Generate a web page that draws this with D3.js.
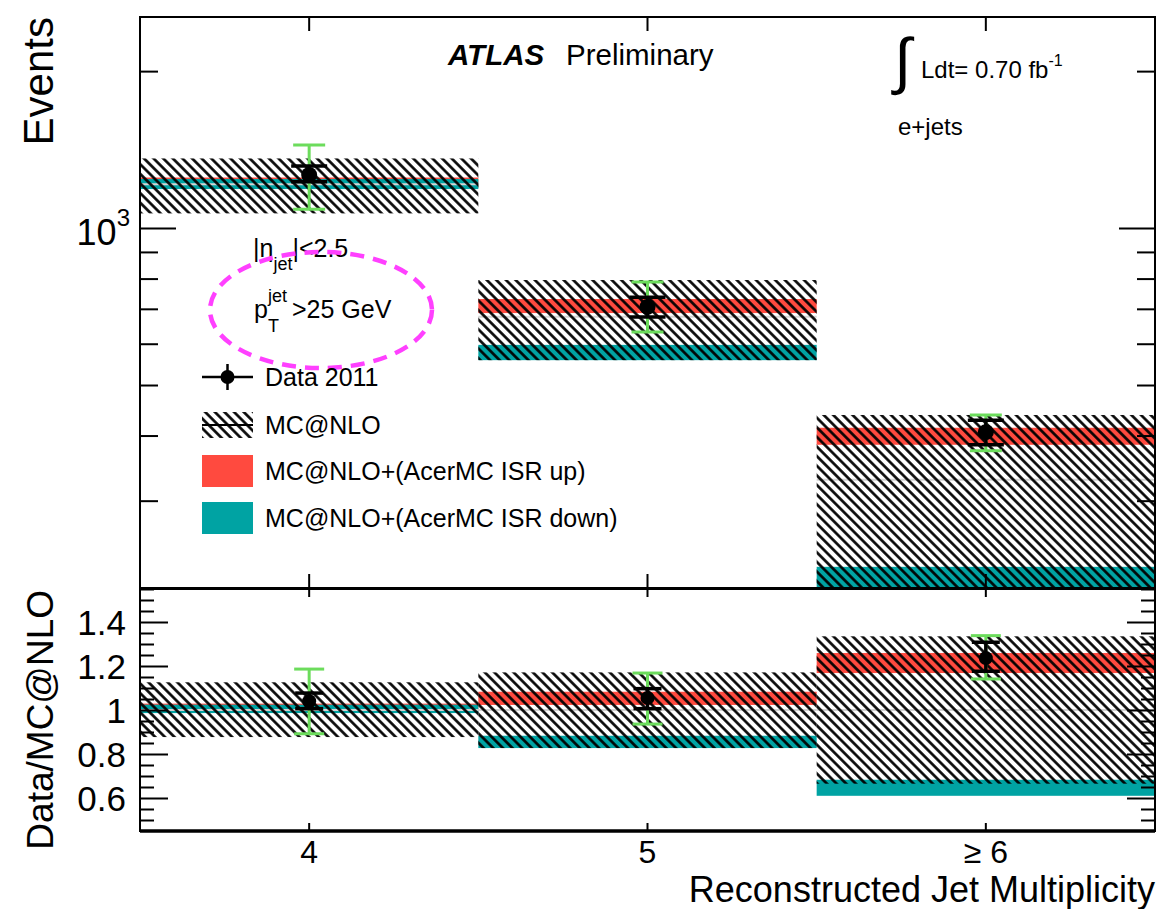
<!DOCTYPE html>
<html>
<head>
<meta charset="utf-8">
<script src="https://cdnjs.cloudflare.com/ajax/libs/d3/7.8.5/d3.min.js"></script>
<style>
  html, body { margin: 0; padding: 0; background: #fff; }
  svg { display: block; }
</style>
</head>
<body>
<svg id="chart" width="1159" height="909"></svg>
<script>
// ---- data: reconstructed jet multiplicity, e+jets channel ----
const categories = ["4", "5", "≥ 6"];

// upper panel (events)
const dataEvents  = [1264, 706, 406];
const dataStatLo  = [1227, 675, 384];
const dataStatHi  = [1315, 737, 428];
const dataTotLo   = [1087, 632, 374];
const dataTotHi   = [1443, 788, 438];
const mcNominal   = [1213, 676, 329];
const mcBandLo    = [1067, 558, 200];
const mcBandHi    = [1360, 795, 438];
const isrUpLo     = [1195, 687, 384];
const isrUpHi     = [1250, 731, 414];
const isrDownLo   = [1188, 558, 190];
const isrDownHi   = [1242, 597, 224];

// lower panel (Data / MC@NLO)
const ratioData    = [1.040, 1.055, 1.236];
const ratioStatLo  = [1.006, 1.006, 1.176];
const ratioStatHi  = [1.077, 1.097, 1.308];
const ratioTotLo   = [0.892, 0.936, 1.141];
const ratioTotHi   = [1.186, 1.168, 1.338];
const ratioNominal = [1.0, 1.0, 1.0];
const ratioMcLo    = [0.877, 0.827, 0.665];
const ratioMcHi    = [1.126, 1.171, 1.335];
const ratioUpLo    = [0.990, 1.023, 1.168];
const ratioUpHi    = [1.029, 1.083, 1.259];
const ratioDownLo  = [0.986, 0.827, 0.610];
const ratioDownHi  = [1.024, 0.883, 0.683];

// axis ticks
const topMajorTicks   = [1000];
const topMinorTicks   = [300, 400, 500, 600, 700, 800, 900, 2000];
const ratioMajorTicks = [0.6, 0.8, 1.0, 1.2, 1.4];
const ratioMinorTicks = [0.5, 0.55, 0.65, 0.7, 0.75, 0.85, 0.9, 0.95, 1.05, 1.1, 1.15, 1.25, 1.3, 1.35, 1.45, 1.5, 1.55];

const legendLabels = ["Data 2011", "MC@NLO", "MC@NLO+(AcerMC ISR up)", "MC@NLO+(AcerMC ISR down)"];

// ---- styling ----
const FONT = '"Liberation Sans", Arial, Helvetica, sans-serif';
const RED = "#ff4a3f";
const TEAL = "#00a3a3";
const GREEN = "#6cdc5c";
const GREY = "#d4d4d4";

const L = 140, R = 1155;
const TOP0 = 17, TOP1 = 588;
const RAT0 = 589, RAT1 = 831;

const svg = d3.select("#chart").attr("font-family", FONT);

const x = d3.scaleBand().domain(categories).range([L, R]).paddingInner(0).paddingOuter(0);
const yTop = d3.scaleLog().domain([204, 2540]).range([TOP1, TOP0]);
const yRat = d3.scaleLinear().domain([0.45, 1.55]).range([RAT1, RAT0]);

const defs = svg.append("defs");
const hatch = defs.append("pattern")
  .attr("id", "hatch")
  .attr("patternUnits", "userSpaceOnUse")
  .attr("width", 6.8).attr("height", 6.8)
  .attr("patternTransform", "rotate(-45)");
hatch.append("line")
  .attr("x1", 3.4).attr("y1", -1).attr("x2", 3.4).attr("y2", 8)
  .attr("stroke", "#000").attr("stroke-width", 2.6);

defs.append("clipPath").attr("id", "clipTop")
  .append("rect").attr("x", L).attr("y", TOP0).attr("width", R - L).attr("height", TOP1 - TOP0);
defs.append("clipPath").attr("id", "clipRat")
  .append("rect").attr("x", L).attr("y", RAT0).attr("width", R - L).attr("height", RAT1 - RAT0);

// ---- generic drawing helpers ----
function bands(g, y, lo, hi, fill) {
  g.selectAll(null).data(categories).join("rect")
    .attr("x", d => x(d))
    .attr("width", x.bandwidth())
    .attr("y", (d, i) => y(hi[i]))
    .attr("height", (d, i) => y(lo[i]) - y(hi[i]))
    .attr("fill", fill);
}
function levels(g, y, vals, color, width) {
  g.selectAll(null).data(categories).join("line")
    .attr("x1", d => x(d)).attr("x2", d => x(d) + x.bandwidth())
    .attr("y1", (d, i) => y(vals[i])).attr("y2", (d, i) => y(vals[i]))
    .attr("stroke", color).attr("stroke-width", width);
}
function errorBars(g, y, lo, hi, color, width, cap) {
  const cx = d => x(d) + x.bandwidth() / 2;
  const eb = g.selectAll(null).data(categories).join("g");
  eb.append("line")
    .attr("x1", cx).attr("x2", cx)
    .attr("y1", (d, i) => y(lo[i])).attr("y2", (d, i) => y(hi[i]))
    .attr("stroke", color).attr("stroke-width", width);
  eb.append("line")
    .attr("x1", d => cx(d) - cap / 2).attr("x2", d => cx(d) + cap / 2)
    .attr("y1", (d, i) => y(lo[i])).attr("y2", (d, i) => y(lo[i]))
    .attr("stroke", color).attr("stroke-width", width);
  eb.append("line")
    .attr("x1", d => cx(d) - cap / 2).attr("x2", d => cx(d) + cap / 2)
    .attr("y1", (d, i) => y(hi[i])).attr("y2", (d, i) => y(hi[i]))
    .attr("stroke", color).attr("stroke-width", width);
}
function markers(g, y, vals, r) {
  g.selectAll(null).data(categories).join("circle")
    .attr("cx", d => x(d) + x.bandwidth() / 2)
    .attr("cy", (d, i) => y(vals[i]))
    .attr("r", r).attr("fill", "#000");
}
function styleAxis(g) {
  g.select(".domain").remove();
  g.selectAll(".tick line").attr("stroke", "#000").attr("stroke-width", 2);
  g.attr("font-family", FONT).attr("color", "#000");
}

// ---- upper panel ----
const gTop = svg.append("g").attr("clip-path", "url(#clipTop)");
bands(gTop, yTop, isrUpLo, isrUpHi, RED);
bands(gTop, yTop, isrDownLo, isrDownHi, TEAL);
levels(gTop, yTop, mcNominal, GREY, 2);
bands(gTop, yTop, mcBandLo, mcBandHi, "url(#hatch)");
errorBars(gTop, yTop, dataTotLo, dataTotHi, GREEN, 3, 32);
errorBars(gTop, yTop, dataStatLo, dataStatHi, "#000", 3.5, 36);
markers(gTop, yTop, dataEvents, 8);

// ---- lower panel ----
const gRat = svg.append("g").attr("clip-path", "url(#clipRat)");
bands(gRat, yRat, ratioUpLo, ratioUpHi, RED);
bands(gRat, yRat, ratioDownLo, ratioDownHi, TEAL);
levels(gRat, yRat, ratioNominal, GREY, 2);
bands(gRat, yRat, ratioMcLo, ratioMcHi, "url(#hatch)");
errorBars(gRat, yRat, ratioTotLo, ratioTotHi, GREEN, 3, 30);
errorBars(gRat, yRat, ratioStatLo, ratioStatHi, "#000", 3.5, 28);
markers(gRat, yRat, ratioData, 7);

// ---- axes: upper panel ----
svg.append("g").attr("transform", `translate(${L},0)`)
  .call(d3.axisLeft(yTop).tickValues(topMinorTicks).tickSizeInner(-18).tickSizeOuter(0).tickFormat(""))
  .call(styleAxis);
const topMajor = svg.append("g").attr("transform", `translate(${L},0)`)
  .call(d3.axisLeft(yTop).tickValues(topMajorTicks).tickSizeInner(-36).tickSizeOuter(0).tickPadding(10))
  .call(styleAxis);
topMajor.selectAll(".tick text").each(function(d) {
  const t = d3.select(this).text(null).attr("font-size", 36).attr("dy", "0.45em");
  const e = Math.round(Math.log10(d));
  t.append("tspan").text("10");
  t.append("tspan").text(e).attr("font-size", 24).attr("dy", "-0.8em");
});
svg.append("g").attr("transform", `translate(${R},0)`)
  .call(d3.axisRight(yTop).tickValues(topMinorTicks).tickSizeInner(-18).tickSizeOuter(0).tickFormat(""))
  .call(styleAxis);
svg.append("g").attr("transform", `translate(${R},0)`)
  .call(d3.axisRight(yTop).tickValues(topMajorTicks).tickSizeInner(-36).tickSizeOuter(0).tickFormat(""))
  .call(styleAxis);
svg.append("g").attr("transform", `translate(0,${TOP0})`)
  .call(d3.axisTop(x).tickSizeInner(-14).tickSizeOuter(0).tickFormat(""))
  .call(styleAxis);
svg.append("g").attr("transform", `translate(0,${TOP1})`)
  .call(d3.axisBottom(x).tickSizeInner(-14).tickSizeOuter(0).tickFormat(""))
  .call(styleAxis);

// ---- axes: lower panel ----
svg.append("g").attr("transform", `translate(${L},0)`)
  .call(d3.axisLeft(yRat).tickValues(ratioMinorTicks).tickSizeInner(-14).tickSizeOuter(0).tickFormat(""))
  .call(styleAxis);
svg.append("g").attr("transform", `translate(${L},0)`)
  .call(d3.axisLeft(yRat).tickValues(ratioMajorTicks).tickSizeInner(-28).tickSizeOuter(0).tickPadding(14)
    .tickFormat(d => d === 1 ? "1" : d3.format(".1f")(d)))
  .call(styleAxis)
  .call(g => g.selectAll(".tick text").attr("font-size", 35).attr("dy", "0.36em"));
svg.append("g").attr("transform", `translate(${R},0)`)
  .call(d3.axisRight(yRat).tickValues(ratioMinorTicks).tickSizeInner(-14).tickSizeOuter(0).tickFormat(""))
  .call(styleAxis);
svg.append("g").attr("transform", `translate(${R},0)`)
  .call(d3.axisRight(yRat).tickValues(ratioMajorTicks).tickSizeInner(-28).tickSizeOuter(0).tickFormat(""))
  .call(styleAxis);
svg.append("g").attr("transform", `translate(0,${RAT0})`)
  .call(d3.axisTop(x).tickSizeInner(-8).tickSizeOuter(0).tickFormat(""))
  .call(styleAxis);
svg.append("g").attr("transform", `translate(0,${RAT1})`)
  .call(d3.axisBottom(x).tickSizeInner(-8).tickSizeOuter(0).tickPadding(8))
  .call(styleAxis)
  .call(g => g.selectAll(".tick text").attr("font-size", 32).attr("dy", "0.74em"));

// ---- frames ----
svg.append("rect").attr("x", L).attr("y", TOP0).attr("width", R - L).attr("height", TOP1 - TOP0)
  .attr("fill", "none").attr("stroke", "#000").attr("stroke-width", 2);
svg.append("rect").attr("x", L).attr("y", RAT0).attr("width", R - L).attr("height", RAT1 - RAT0)
  .attr("fill", "none").attr("stroke", "#000").attr("stroke-width", 2);
svg.append("line").attr("x1", L).attr("x2", R).attr("y1", RAT1).attr("y2", RAT1)
  .attr("stroke", "#000").attr("stroke-width", 3.5);

// ---- axis titles ----
svg.append("text")
  .attr("transform", "translate(53,17) rotate(-90)")
  .attr("text-anchor", "end").attr("font-size", 42).text("Events");
svg.append("text")
  .attr("transform", `translate(53,${RAT0 + 1}) rotate(-90)`)
  .attr("text-anchor", "end").attr("font-size", 37).text("Data/MC@NLO");
svg.append("text")
  .attr("x", R).attr("y", 902).attr("text-anchor", "end")
  .attr("font-size", 36).text("Reconstructed Jet Multiplicity");

// ---- labels ----
const lab = svg.append("g");
lab.append("text").attr("x", 448).attr("y", 65).attr("font-size", 29.5)
  .attr("font-weight", "bold").attr("font-style", "italic").text("ATLAS");
lab.append("text").attr("x", 566).attr("y", 65).attr("font-size", 29.5).text("Preliminary");

lab.append("text").attr("x", 894).attr("y", 82).attr("font-size", 62)
  .attr("font-family", '"DejaVu Sans", sans-serif').attr("font-weight", 200).text("∫");
const lum = lab.append("text").attr("x", 921).attr("y", 78).attr("font-size", 24);
lum.append("tspan").text("Ldt= 0.70 fb");
lum.append("tspan").attr("font-size", 16).attr("dy", -12).text("-1");
lab.append("text").attr("x", 898).attr("y", 135).attr("font-size", 24).text("e+jets");

// jet selection cuts
const eta = lab.append("text").attr("x", 253).attr("y", 257).attr("font-size", 25);
eta.append("tspan").text("|η");
eta.append("tspan").attr("font-size", 18).attr("dy", 13).text("jet");
eta.append("tspan").attr("dy", -13).text("|<2.5");
lab.append("text").attr("x", 254).attr("y", 318).attr("font-size", 25).text("p");
lab.append("text").attr("x", 268).attr("y", 302).attr("font-size", 18).text("jet");
lab.append("text").attr("x", 268).attr("y", 332).attr("font-size", 18).text("T");
lab.append("text").attr("x", 292).attr("y", 318).attr("font-size", 25).text(">25 GeV");

lab.append("ellipse").attr("cx", 321).attr("cy", 310).attr("rx", 111).attr("ry", 58)
  .attr("fill", "none").attr("stroke", "#ff40ff").attr("stroke-width", 4.5)
  .attr("stroke-dasharray", "14 9");

// ---- legend ----
const leg = svg.append("g");
const rowY = [377, 425, 471, 518];
const bx0 = 202, bx1 = 253, bcx = (bx0 + bx1) / 2;
// data entry
leg.append("line").attr("x1", bx0).attr("x2", bx1).attr("y1", rowY[0]).attr("y2", rowY[0])
  .attr("stroke", "#000").attr("stroke-width", 2.5);
leg.append("line").attr("x1", bcx).attr("x2", bcx).attr("y1", rowY[0] - 13).attr("y2", rowY[0] + 13)
  .attr("stroke", "#000").attr("stroke-width", 2.5);
leg.append("circle").attr("cx", bcx).attr("cy", rowY[0]).attr("r", 7).attr("fill", "#000");
// MC entry
leg.append("rect").attr("x", bx0).attr("y", rowY[1] - 13).attr("width", bx1 - bx0).attr("height", 26)
  .attr("fill", "url(#hatch)");
leg.append("line").attr("x1", bx0).attr("x2", bx1).attr("y1", rowY[1]).attr("y2", rowY[1])
  .attr("stroke", "#000").attr("stroke-width", 2);
// ISR entries
leg.append("rect").attr("x", bx0).attr("y", rowY[2] - 16).attr("width", bx1 - bx0).attr("height", 32)
  .attr("fill", RED);
leg.append("rect").attr("x", bx0).attr("y", rowY[3] - 16).attr("width", bx1 - bx0).attr("height", 32)
  .attr("fill", TEAL);
leg.selectAll(null).data(legendLabels).join("text")
  .attr("x", 265).attr("y", (d, i) => rowY[i]).attr("dy", "0.35em")
  .attr("font-size", 25).text(d => d);
</script>
</body>
</html>
